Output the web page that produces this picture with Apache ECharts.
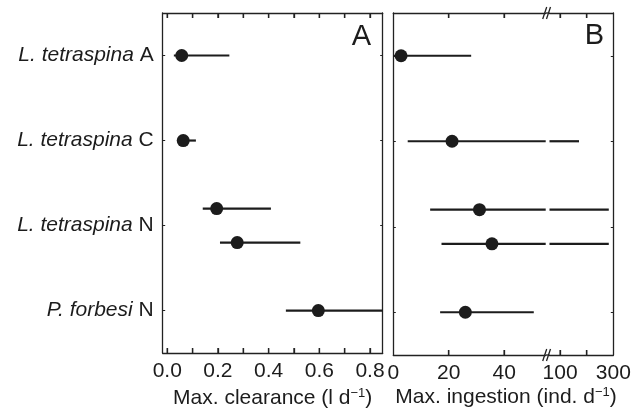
<!DOCTYPE html>
<html>
<head>
<meta charset="utf-8">
<script src="https://cdn.jsdelivr.net/npm/echarts@6/dist/echarts.min.js"></script>
<style>html,body{margin:0;padding:0;background:#fff}#c{width:642px;height:414px}</style>
</head>
<body>
<div id="c"></div>
<script>
// ---- data ----
const species = ['L. tetraspina', 'L. tetraspina', 'L. tetraspina', 'P. forbesi'];
const stages = ['A', 'C', 'N', 'N'];
const rowTicks = [1, 2, 3, 4];
// five estimates (two for L. tetraspina N)
const rowPos = [1, 2, 2.8, 3.2, 4];
const clearanceMid = [0.057, 0.063, 0.195, 0.276, 0.596];
const clearanceLo = [0.026, 0.045, 0.14, 0.208, 0.468];
const clearanceHi = [0.245, 0.113, 0.409, 0.525, 0.9];
const ingestionMid = [2.8, 21.2, 31.1, 35.6, 26.0];
const ingestionLo = [0, 5.2, 13.3, 17.4, 16.9];
const ingestionHi = [28.1, 171, 283, 283, 50.7];
const clearanceTicks = [0, 0.1, 0.2, 0.3, 0.4, 0.5, 0.6, 0.7, 0.8];
const clearanceLabels = [0, 0.2, 0.4, 0.6, 0.8];
const ingLowTicks = [20, 40];
const ingLowLabels = [0, 20, 40];
const ingHighTicks = [100, 200];
const ingHighLabels = [100, 300];

// ---- styling ----
const FONT = 'Liberation Sans, Arial, Helvetica, sans-serif';
const INK = '#1c1c1c';
const AX = '#222222';
const FS = 21;

const chart = echarts.init(document.getElementById('c'), null, {renderer: 'canvas'});

const G = {
  A: {left: 162.7, top: 13, width: 220, height: 342},
  B1: {left: 393.3, top: 13, width: 152.4, height: 342},
  B2: {left: 549.5, top: 13, width: 63.8, height: 342}
};

function xAx(grid, pos, min, max, ticks, labels, fmt, extra) {
  return Object.assign({
    type: 'value', gridIndex: grid, position: pos, min: min, max: max,
    axisLine: {show: true, lineStyle: {color: AX, width: 1.3}}, splitLine: {show: false},
    axisTick: {show: true, inside: true, length: 5, customValues: ticks.slice(), lineStyle: {color: AX, width: 1.3}},
    axisLabel: labels ? {show: true, customValues: labels.slice(), formatter: fmt, fontSize: FS, fontFamily: FONT, color: INK, margin: 8, showMinLabel: true, showMaxLabel: true} : {show: false}
  }, extra || {});
}
function yAx(grid, pos, showLabel, zeroRef) {
  const line = {show: true, lineStyle: {color: AX, width: 1.3}};
  if (zeroRef != null) line.onZeroAxisIndex = zeroRef;
  return {
    type: 'value', gridIndex: grid, position: pos, min: 0.5, max: 4.5, inverse: true,
    axisLine: line, splitLine: {show: false},
    axisTick: {show: true, inside: true, length: 2.5, customValues: rowTicks.slice(), lineStyle: {color: AX, width: 1}},
    axisLabel: showLabel ? {
      show: true, customValues: rowTicks.slice(), margin: 9, fontSize: FS, fontFamily: FONT, color: INK,
      formatter: function (v) { const i = Math.round(v) - 1; return '{i|' + species[i] + '} ' + stages[i]; },
      rich: {i: {fontStyle: 'italic', fontSize: FS, fontFamily: FONT, color: INK}}
    } : {show: false}
  };
}

function nameStyle() {
  return {
    fontSize: FS, fontFamily: FONT, color: INK,
    rich: {sup: {fontSize: 13, fontFamily: FONT, color: INK, padding: [0, 0, 10, 0]}}
  };
}

function errSeries(xi, yi, lo, hi) {
  return {
    type: 'custom', xAxisIndex: xi, yAxisIndex: yi, z: 2,
    data: rowPos.map((y, k) => [lo[k], hi[k], y]),
    renderItem: function (params, api) {
      const p1 = api.coord([api.value(0), api.value(2)]);
      const p2 = api.coord([api.value(1), api.value(2)]);
      const cs = params.coordSys;
      const x1 = Math.max(p1[0], cs.x), x2 = Math.min(p2[0], cs.x + cs.width);
      if (x2 <= x1) return null;
      return {type: 'line', shape: {x1: x1, y1: p1[1], x2: x2, y2: p1[1]}, style: {stroke: INK, lineWidth: 2.2}};
    }
  };
}
// inward tick marks on top and bottom borders, placed through the x scale
function tickSeries(xi, yi, ticks) {
  return {
    type: 'custom', xAxisIndex: xi, yAxisIndex: yi, z: 4, silent: true,
    data: ticks.map(v => [v, 1]),
    renderItem: function (params, api) {
      const x = api.coord([api.value(0), api.value(1)])[0];
      const cs = params.coordSys;
      const yb = cs.y + cs.height, yt = cs.y;
      return {type: 'group', children: [
        {type: 'line', shape: {x1: x, y1: yb, x2: x, y2: yb - 5}, style: {stroke: AX, lineWidth: 1.3}},
        {type: 'line', shape: {x1: x, y1: yt, x2: x, y2: yt + 5}, style: {stroke: AX, lineWidth: 1.3}}
      ]};
    }
  };
}
function ptSeries(xi, yi, mid) {
  return {
    type: 'scatter', xAxisIndex: xi, yAxisIndex: yi, z: 3, symbolSize: 13,
    itemStyle: {color: INK, opacity: 1}, silent: true,
    data: rowPos.map((y, k) => [mid[k], y])
  };
}

const breakX = G.B1.left + G.B1.width;
function breakMarks(yc) {
  return [
    {type: 'line', shape: {x1: breakX, y1: yc, x2: G.B2.left, y2: yc}, style: {stroke: AX, lineWidth: 1.3}},
    {type: 'line', shape: {x1: breakX - 3, y1: yc + 6, x2: breakX + 1, y2: yc - 6}, style: {stroke: AX, lineWidth: 1.3}},
    {type: 'line', shape: {x1: breakX + 0.8, y1: yc + 6, x2: breakX + 4.8, y2: yc - 6}, style: {stroke: AX, lineWidth: 1.3}}
  ];
}

const option = {
  animation: false,
  backgroundColor: '#fff',
  grid: [G.A, G.B1, G.B2],
  xAxis: [
    xAx(0, 'bottom', -0.018, 0.85, clearanceTicks, clearanceLabels, v => v.toFixed(1), {
      name: 'Max. clearance (l d{sup|−1})', nameLocation: 'middle', nameGap: 31, nameTextStyle: nameStyle()
    }),
    xAx(0, 'top', -0.018, 0.85, clearanceTicks, null),
    xAx(1, 'bottom', 0, 55, ingLowTicks, ingLowLabels, v => String(v), {
      name: 'Max. ingestion (ind. d{sup|−1})', nameLocation: 'start', nameGap: 0, nameTextStyle: Object.assign(nameStyle(), {align: 'left', verticalAlign: 'top', padding: [31, 0, 0, 2]})
    }),
    xAx(1, 'top', 0, 55, ingLowTicks, null),
    xAx(2, 'bottom', 60, 300, ingHighTicks, ingHighLabels, v => String(v)),
    xAx(2, 'top', 60, 300, ingHighTicks, null),
    // hidden reference axis so the panel-A y-axis lines stay on the grid border
    {type: 'value', gridIndex: 0, show: false, min: 1, max: 2}
  ],
  yAxis: [
    yAx(0, 'left', true, 6),
    yAx(0, 'right', false, 6),
    yAx(1, 'left', false),
    yAx(2, 'right', false)
  ],
  series: [
    errSeries(0, 0, clearanceLo, clearanceHi),
    ptSeries(0, 0, clearanceMid),
    errSeries(2, 2, ingestionLo, ingestionHi),
    ptSeries(2, 2, ingestionMid),
    errSeries(4, 3, ingestionLo, ingestionHi),
    tickSeries(0, 0, clearanceTicks),
    tickSeries(2, 2, ingLowTicks),
    tickSeries(4, 3, ingHighTicks)
  ],
  graphic: [
    {type: 'text', right: 642 - 371, top: 22, style: {text: 'A', fontSize: 29, fontFamily: FONT, fill: INK}},
    {type: 'text', right: 642 - 604, top: 21, style: {text: 'B', fontSize: 29, fontFamily: FONT, fill: INK}}
  ].concat(breakMarks(13)).concat(breakMarks(13 + 342))
};
chart.setOption(option);
</script>
</body>
</html>
